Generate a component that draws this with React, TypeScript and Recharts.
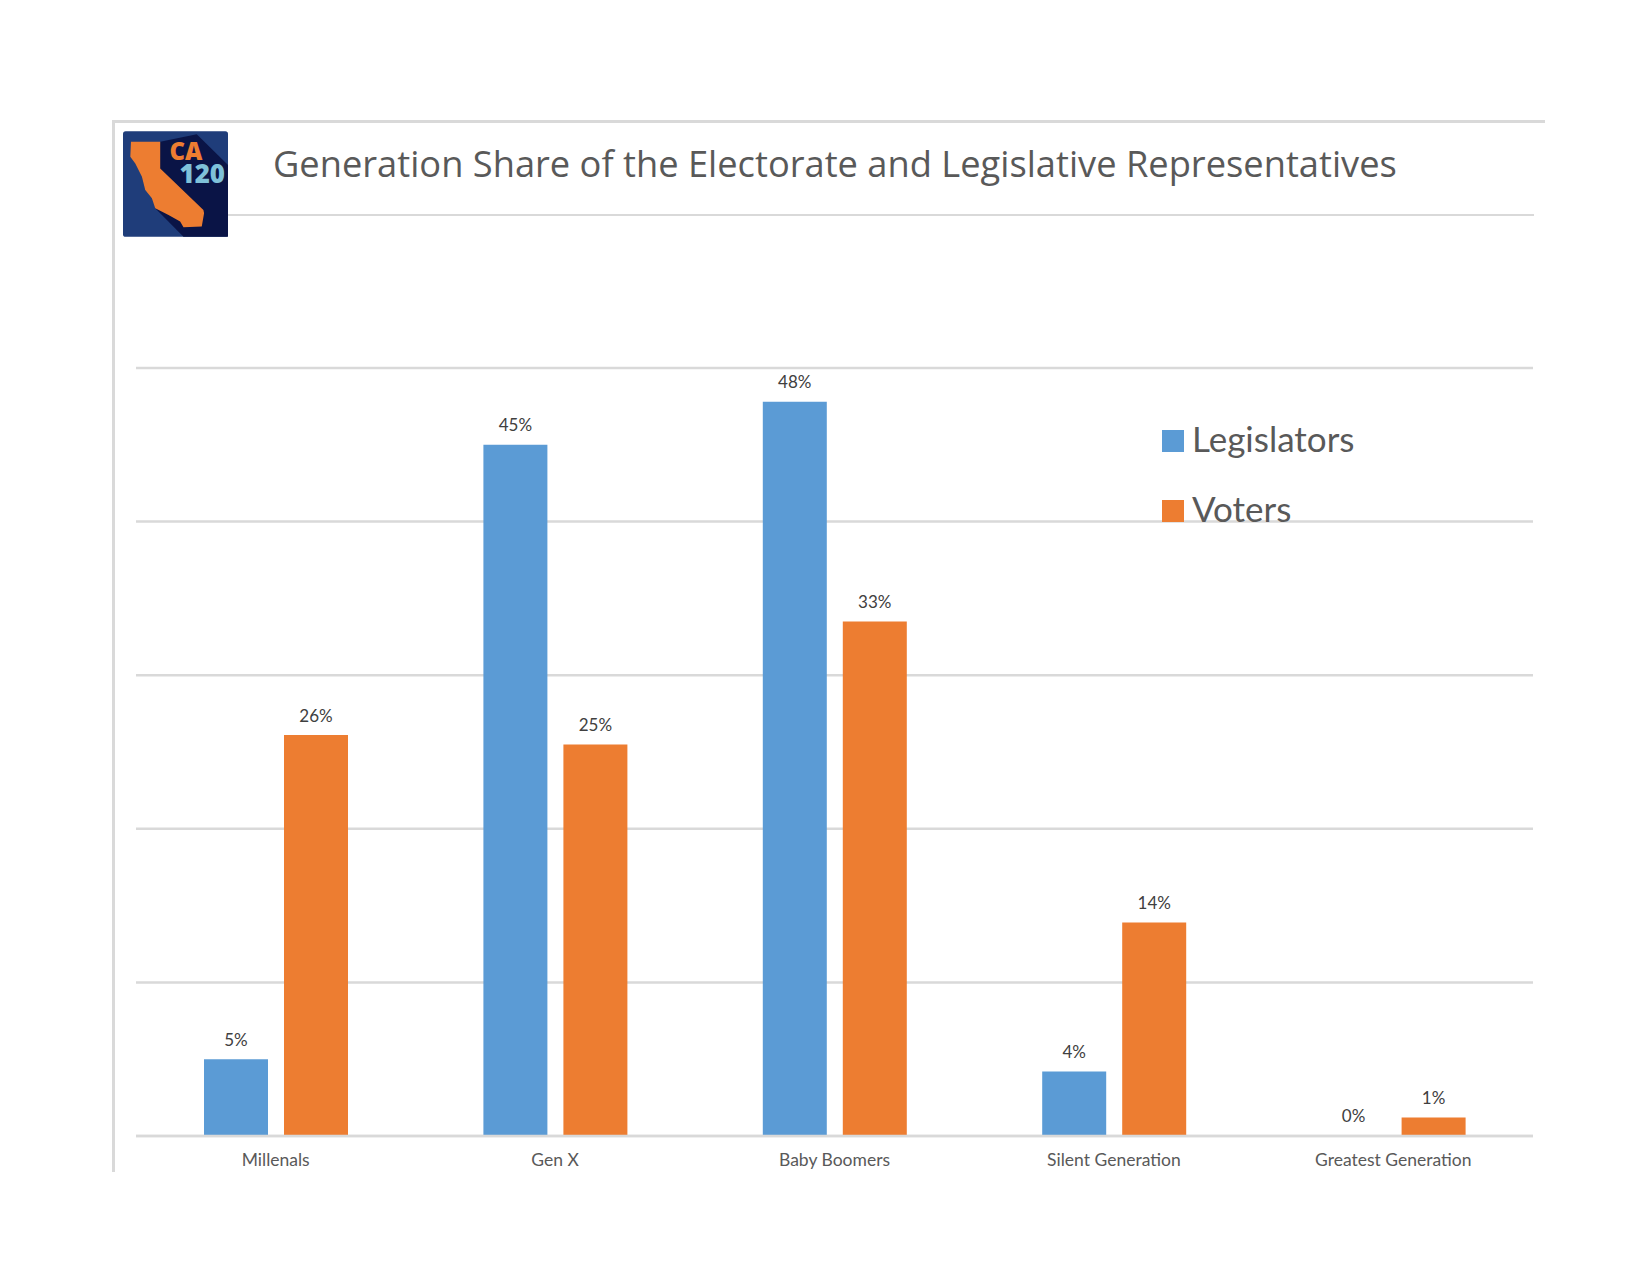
import { BarChart, Bar, XAxis, YAxis, CartesianGrid, Legend, LabelList } from "recharts";

const categories = ["Millenals", "Gen X", "Baby Boomers", "Silent Generation", "Greatest Generation"];
const legislators = [5, 45, 47.8, 4.2, 0.02];
const voters = [26.1, 25.49, 33.49, 13.9, 1.2];
const yTicks = [0, 10, 20, 30, 40, 50];

const chartData = categories.map((name, i) => ({
  name,
  Legislators: legislators[i],
  Voters: voters[i],
}));

const BLUE = "#5b9bd5";
const ORANGE = "#ed7d31";
const GRID = "#d9d9d9";

const formatPct = (v: any) => `${Math.round(Number(v))}%`;
const labelStyle = { fontFamily: "Lato", fontSize: 17, fill: "#404040" };

function Logo() {
  return (
    <svg
      viewBox="68 63 316 318"
      width={105}
      height={106}
      style={{ position: "absolute", left: 123, top: 131 }}
    >
      <rect x={68} y={63} width={316} height={318} rx={8} fill="#1f3d7a" />
      <polygon points="180,95 290,72 384,165 384,381 250,381 165,295" fill="#0a1446" />
      <polygon
        points="92,95 180,95 180,175 310,300 312,310 305,350 250,352 240,335 205,315 165,295 155,265 135,240 125,200 105,160 90,140"
        fill={ORANGE}
      />
      <text x={208} y={151} fontFamily="Open Sans" fontWeight={800} fontSize={72} fill={ORANGE}>
        CA
      </text>
      <text x={238} y={220} fontFamily="Open Sans" fontWeight={800} fontSize={78} fill="#7fc1d9">
        120
      </text>
    </svg>
  );
}

export default function App() {
  return (
    <div style={{ position: "absolute", left: 0, top: 0, width: 1650, height: 1284, background: "#fff", overflow: "hidden" }}>
      {/* outer frame */}
      <div style={{ position: "absolute", left: 112, top: 120, width: 1433, height: 3, background: GRID }} />
      <div style={{ position: "absolute", left: 112, top: 120, width: 3, height: 1052, background: GRID }} />
      <div style={{ position: "absolute", left: 228, top: 214, width: 1306, height: 2, background: GRID }} />
      <Logo />
      <div
        style={{
          position: "absolute",
          left: 273,
          top: 137,
          fontFamily: "Open Sans",
          fontSize: 36.25,
          lineHeight: "52px",
          color: "#595959",
          whiteSpace: "nowrap",
        }}
      >
        Generation Share of the Electorate and Legislative Representatives
      </div>
      <div style={{ position: "absolute", left: 0, top: 0 }}>
        <BarChart
          width={1650}
          height={1284}
          data={chartData}
          margin={{ top: 368, right: 117, left: 136, bottom: 118 }}
          barSize={64}
          barGap={16}
        >
          <CartesianGrid vertical={false} stroke={GRID} strokeWidth={2.5} />
          <XAxis
            dataKey="name"
            height={30}
            tickLine={false}
            axisLine={{ stroke: GRID, strokeWidth: 2.5 }}
            tick={{ fontFamily: "Lato", fontSize: 17.5, fill: "#595959" }}
            tickMargin={12}
          />
          <YAxis hide domain={[0, 50]} ticks={yTicks} />
          <Legend
            layout="vertical"
            verticalAlign="middle"
            align="center"
            iconType="square"
            iconSize={22}
            wrapperStyle={{ left: 1162, top: 401, width: 300, height: 140, fontFamily: "Lato", fontSize: 35, lineHeight: "70px", textAlign: "left" }}
            formatter={(value: any) => <span style={{ color: "#595959", marginLeft: 4, position: "relative", top: 2 }}>{value}</span>}
          />
          <Bar dataKey="Legislators" fill={BLUE} isAnimationActive={false}>
            <LabelList dataKey="Legislators" position="top" offset={13.5} formatter={formatPct} style={labelStyle} />
          </Bar>
          <Bar dataKey="Voters" fill={ORANGE} isAnimationActive={false}>
            <LabelList dataKey="Voters" position="top" offset={13.5} formatter={formatPct} style={labelStyle} />
          </Bar>
        </BarChart>
      </div>
    </div>
  );
}
